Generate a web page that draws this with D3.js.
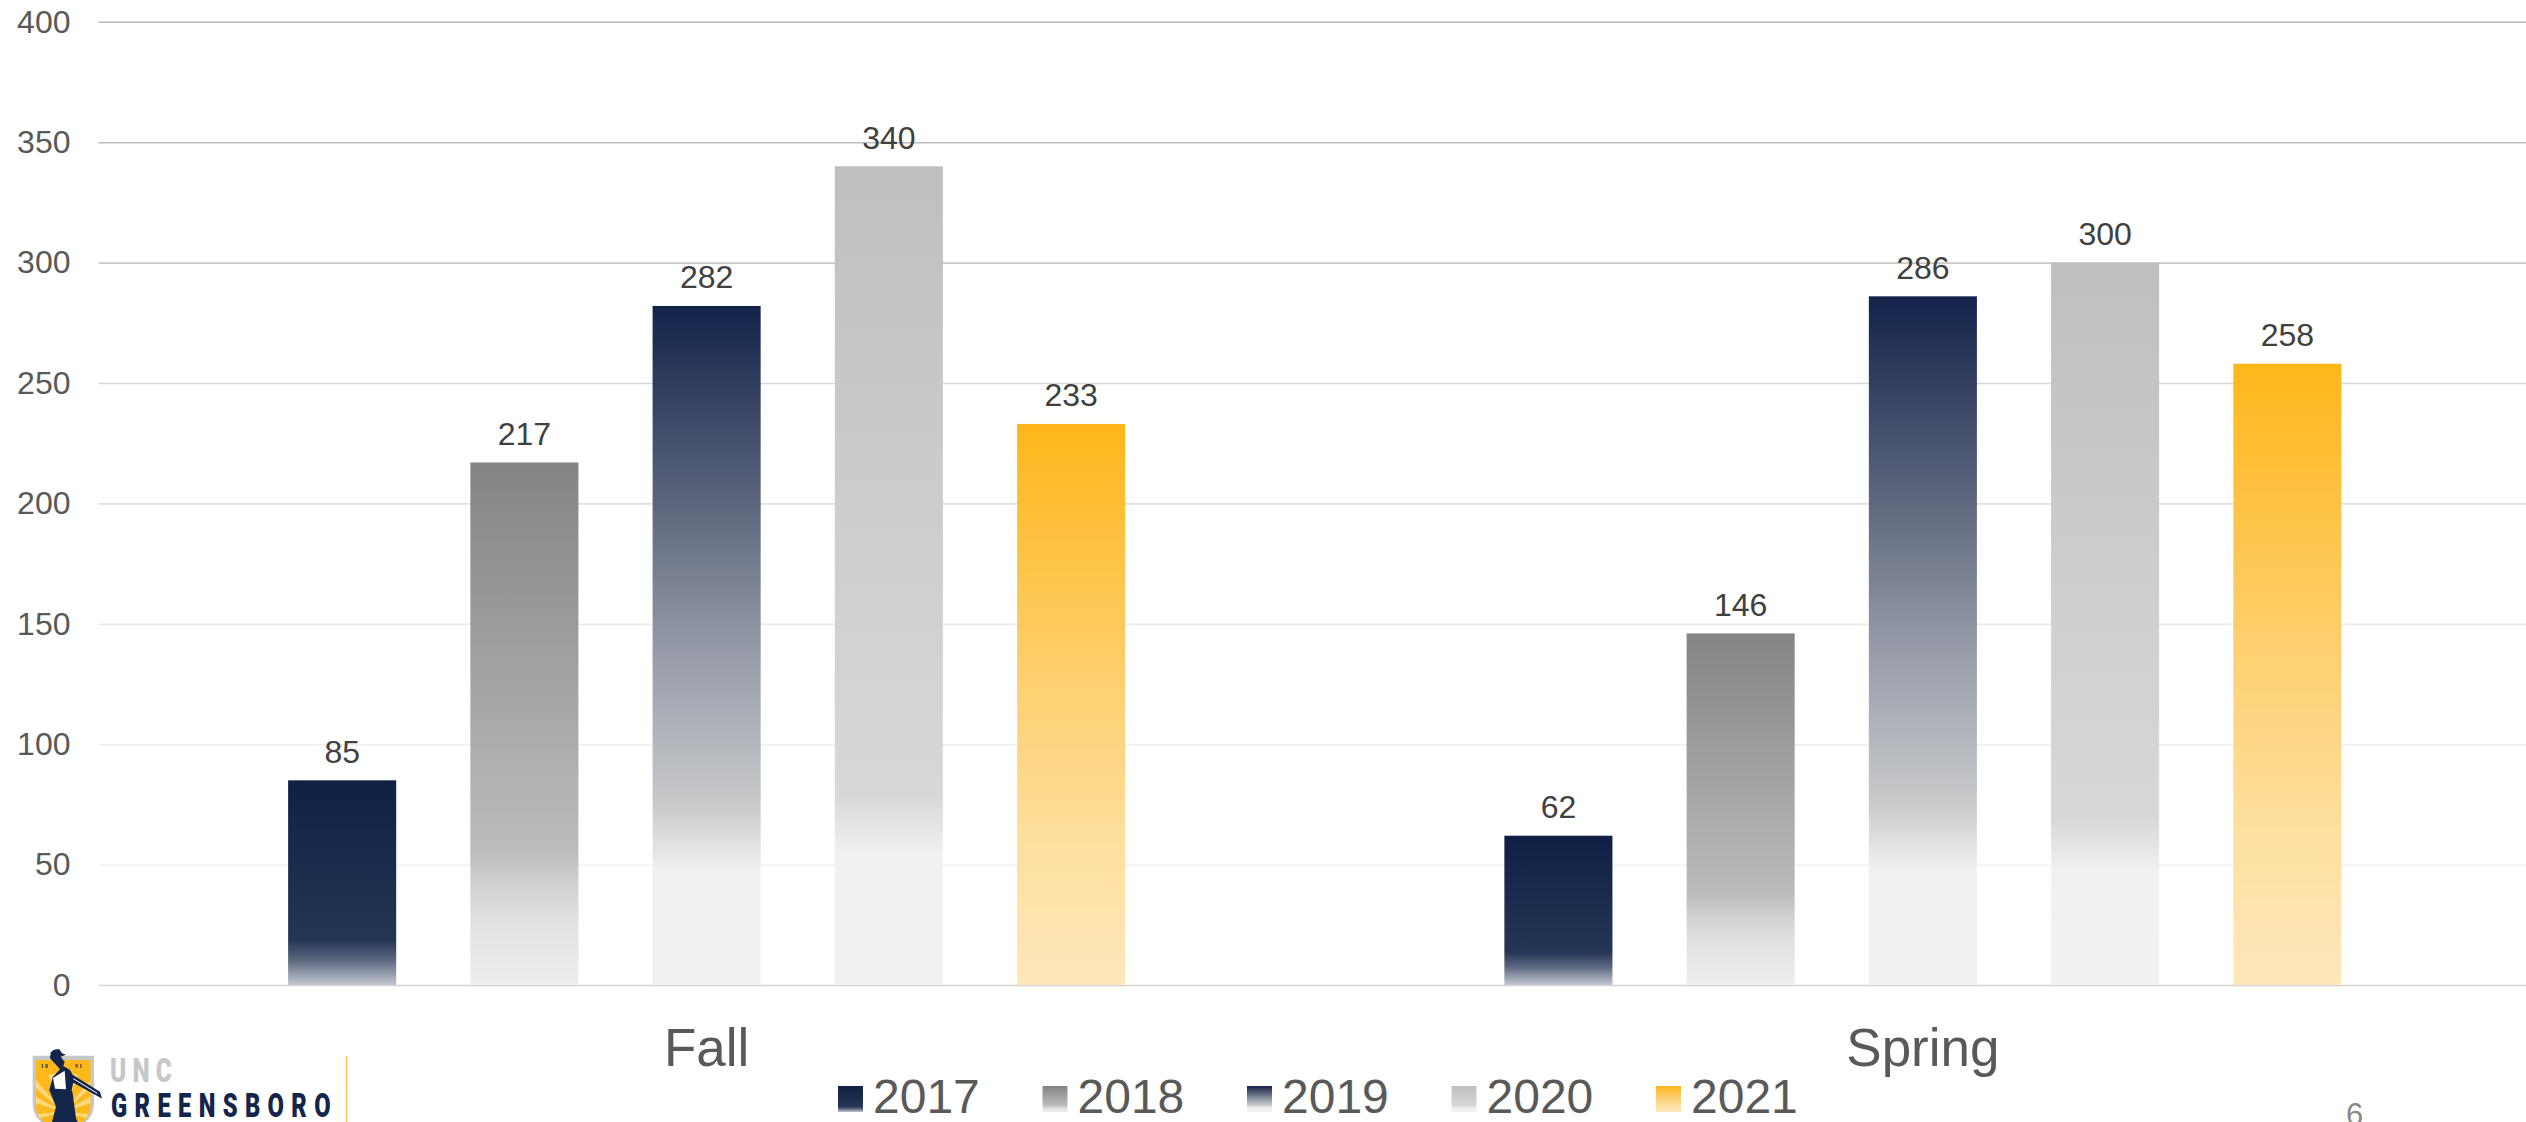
<!DOCTYPE html>
<html>
<head>
<meta charset="utf-8">
<script src="https://cdn.jsdelivr.net/npm/d3@7"></script>
<style>
  html, body { margin: 0; padding: 0; background: #fff; overflow: hidden; }
  svg { display: block; font-family: "Liberation Sans", Arial, sans-serif; }
</style>
</head>
<body>
<div id="chart"></div>
<script>
const categories = ["Fall", "Spring"];
const years = ["2017", "2018", "2019", "2020", "2021"];
const fallValues = [85, 217, 282, 340, 233];
const springValues = [62, 146, 286, 300, 258];
const yTicks = [0, 50, 100, 150, 200, 250, 300, 350, 400];
const pageNumber = "6";

// gridlines fade out toward the bottom of the chart
const gridColors = ["#d4d4d4", "#f3f3f3", "#efefef", "#e9e9e9", "#e0e0e0", "#d6d6d6", "#c9c9c9", "#bdbdbd", "#bababa"];

// vertical gradient stops for each year: [offset, color]
const gradients = {
  "2017": [[0, "#0f2044"], [0.78, "#243555"], [0.88, "#5c6880"], [1, "#c5c8d2"]],
  "2018": [[0, "#848484"], [0.49, "#a9a9a9"], [0.745, "#bcbcbc"], [0.81, "#d2d2d2"], [0.87, "#e0e0e0"], [1, "#eeeeee"]],
  "2019": [[0, "#12224a"], [0.3, "#5f687e"], [0.5, "#9499a7"], [0.74, "#c9cbcc"], [0.83, "#f0f0f0"], [1, "#f0f0f0"]],
  "2020": [[0, "#bebfc1"], [0.77, "#d8d8d8"], [0.84, "#f1f1f1"], [1, "#f0f0f0"]],
  "2021": [[0, "#ffb61a"], [0.5, "#fed277"], [0.75, "#fddf9e"], [1, "#fde8bc"]]
};

const fullWidth = 2526, fullHeight = 1122;
const plot = { left: 98.5, right: 2531, top: 21.8, bottom: 985 };

const svg = d3.select("#chart")
  .append("svg")
  .attr("width", fullWidth)
  .attr("height", fullHeight);

// gradients
const defs = svg.append("defs");
years.forEach(year => {
  defs.append("linearGradient")
    .attr("id", "grad" + year)
    .attr("x1", 0).attr("y1", 0).attr("x2", 0).attr("y2", 1)
    .selectAll("stop")
    .data(gradients[year])
    .join("stop")
    .attr("offset", d => d[0])
    .attr("stop-color", d => d[1]);
});

// scales
const x0 = d3.scaleBand().domain(categories).range([plot.left, plot.right]);
const x1 = d3.scaleBand().domain(years).range([-418.5, 418.5]).paddingInner(0.407);
const y = d3.scaleLinear().domain([0, 400]).range([plot.bottom, plot.top]);

// Y axis and gridlines
const yAxis = svg.append("g")
  .attr("transform", `translate(${plot.left},0)`)
  .call(d3.axisLeft(y).tickValues(yTicks).tickSize(-(fullWidth - plot.left)).tickPadding(28));
yAxis.select(".domain").remove();
yAxis.selectAll("line")
  .attr("stroke", (d, i) => gridColors[i])
  .attr("stroke-width", 1.6);
yAxis.selectAll("text")
  .attr("font-size", 32)
  .attr("font-family", "Liberation Sans")
  .attr("fill", "#595959");

// bars
const groups = svg.selectAll(".group")
  .data(categories)
  .join("g")
  .attr("class", "group")
  .attr("transform", d => `translate(${x0(d) + x0.bandwidth() / 2},0)`);

const barData = c => years.map((year, i) => ({ year, value: (c === "Fall" ? fallValues : springValues)[i] }));

groups.selectAll("rect")
  .data(barData)
  .join("rect")
  .attr("x", d => x1(d.year))
  .attr("y", d => y(d.value))
  .attr("width", x1.bandwidth())
  .attr("height", d => y(0) - y(d.value))
  .attr("fill", d => `url(#grad${d.year})`);

// value labels
groups.selectAll(".label")
  .data(barData)
  .join("text")
  .attr("class", "label")
  .attr("x", d => x1(d.year) + x1.bandwidth() / 2)
  .attr("y", d => y(d.value) - 17.5)
  .attr("text-anchor", "middle")
  .attr("font-size", 32)
  .attr("fill", "#404040")
  .text(d => d.value);

// category labels
groups.append("text")
  .attr("y", 1066)
  .attr("text-anchor", "middle")
  .attr("font-size", 53)
  .attr("fill", "#595959")
  .text(d => d);

// legend
const legend = svg.selectAll(".legend")
  .data(years)
  .join("g")
  .attr("class", "legend")
  .attr("transform", (d, i) => `translate(${838 + i * 204.5},0)`);
legend.append("rect")
  .attr("y", 1086)
  .attr("width", 25)
  .attr("height", 26)
  .attr("fill", d => `url(#grad${d})`);
legend.append("text")
  .attr("x", 35)
  .attr("y", 1113)
  .attr("font-size", 48)
  .attr("fill", "#595959")
  .text(d => d);

// page number
svg.append("text")
  .attr("x", 2346)
  .attr("y", 1125)
  .attr("font-size", 31)
  .attr("fill", "#898989")
  .text(pageNumber);

// logo, drawn in 3x crop units
const logo = svg.append("g").attr("transform", "translate(20,1040) scale(0.3333)");
logo.append("path")
  .attr("d", "M38,47H222V190Q222,232 190,250H70Q38,232 38,190Z")
  .attr("fill", "#c6c7c9");
logo.append("path")
  .attr("d", "M47,60H212V195Q212,228 185,250H75Q47,228 47,195Z")
  .attr("fill", "#fdb91c");
// sun rays
logo.append("path")
  .attr("d", "M130,215L47,120V145ZM130,215L47,170V190ZM130,215L52,222L60,235ZM130,215L212,120V145ZM130,215L212,170V190ZM130,215L205,222L198,235ZM130,215L85,105L110,100ZM130,215L175,105L150,100Z")
  .attr("fill", "#fed87f");
// figure
logo.append("path")
  .attr("d", "M92,38Q100,26 118,28L126,40L138,44L122,50L134,66L130,78L150,90L158,104L240,155L246,176L232,168L160,128L155,150L158,160L168,235L175,250H95L108,200L96,170L88,150L98,112L120,88L104,70L90,55Z")
  .attr("fill", "#13254a");
logo.append("path")
  .attr("d", "M99,114L134,92L138,148L105,146Z")
  .attr("fill", "#ffffff");
logo.append("path")
  .attr("d", "M160,116L232,160")
  .attr("stroke", "#ffffff")
  .attr("stroke-width", 3)
  .attr("fill", "none");
logo.append("text")
  .attr("x", 62).attr("y", 84)
  .attr("font-family", "Liberation Serif")
  .attr("font-weight", "bold")
  .attr("font-size", 17)
  .attr("fill", "#13254a")
  .text("1 8");
logo.append("text")
  .attr("x", 165).attr("y", 84)
  .attr("font-family", "Liberation Serif")
  .attr("font-weight", "bold")
  .attr("font-size", 17)
  .attr("fill", "#13254a")
  .text("9 1");

// wordmark: squeezed glyphs with wide spacing
svg.append("text")
  .attr("transform", "translate(110,1082) scale(0.72,1)")
  .attr("font-family", "Roboto")
  .attr("font-weight", 900)
  .attr("font-size", 34)
  .attr("textLength", 86)
  .attr("lengthAdjust", "spacing")
  .attr("fill", "#c6c7c9")
  .text("UNC");
svg.append("text")
  .attr("transform", "translate(111,1116.5) scale(0.72,1)")
  .attr("font-family", "Roboto")
  .attr("font-weight", 900)
  .attr("font-size", 33)
  .attr("textLength", 305)
  .attr("lengthAdjust", "spacing")
  .attr("fill", "#13254a")
  .text("GREENSBORO");
svg.append("line")
  .attr("x1", 346.5).attr("x2", 346.5)
  .attr("y1", 1056).attr("y2", 1122)
  .attr("stroke", "#fdc54a")
  .attr("stroke-width", 1.5);
</script>
</body>
</html>
